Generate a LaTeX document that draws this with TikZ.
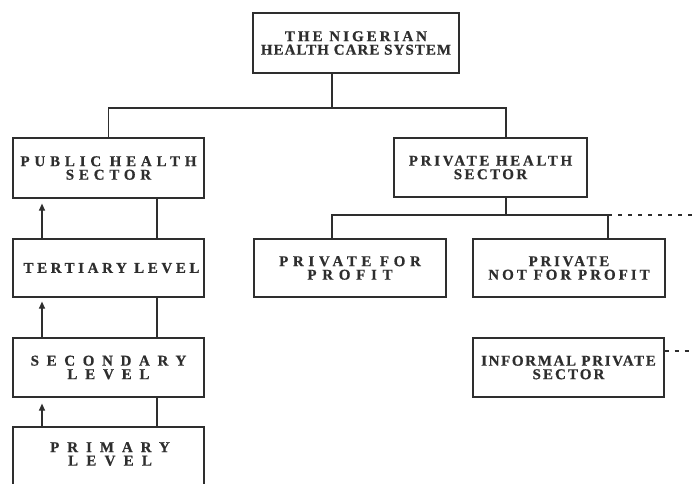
\documentclass[tikz,border=0pt]{standalone}
\usepackage{fontspec}
\setmainfont{Liberation Serif}[BoldFeatures={FakeBold=0.6}]
\usetikzlibrary{arrows.meta}
\newcommand\ls[1]{\addfontfeatures{LetterSpace=#1}}
\definecolor{ink}{HTML}{2E2E2E}
\begin{document}
\begin{tikzpicture}[x=1pt,y=-1pt,
  box/.style={draw=ink,line width=1.2pt,rectangle,inner sep=0pt,align=center,
    font=\fontsize{15}{13.5}\selectfont\bfseries,text=ink},
  txt/.style={inner sep=0pt,align=center,font=\fontsize{15}{13.5}\selectfont\bfseries,text=ink},
  conn/.style={draw=ink,line width=1.2pt},
  dconn/.style={draw=ink,line width=1.2pt,dash pattern=on 4pt off 6pt},
  up/.style={draw=ink,line width=1.2pt,-{Triangle[width=6pt,length=7pt]}}]
\useasboundingbox (0,0) rectangle (693,483);
\clip (0,0) rectangle (693,483);
\fill[white] (0,0) rectangle (693,483);
% boxes
\node[box,minimum width=206pt,minimum height=60pt] (top) at (356,43)
  {{\ls{20}THE NIGERIAN}\\{\ls{7}HEALTH CARE SYSTEM}};
\node[box,minimum width=191pt,minimum height=60pt] (pub) at (108.5,168)
  {{\ls{32}PUBLIC HEALTH}\\{\ls{32}SECTOR}};
\node[box,minimum width=191pt,minimum height=58pt] (ter) at (108.5,268)
  {\hspace*{6pt}{\ls{24}TERTIARY LEVEL}};
\node[box,minimum width=191pt,minimum height=59pt] (sec) at (108.5,367.5)
  {{\ls{51}SECONDARY}\\{\ls{52}LEVEL}};
\node[box,minimum width=191pt,minimum height=120pt] (pri) at (108.5,487) {};
\node[txt] (pritxt) at (110,454) {{\ls{53}PRIMARY}\\{\ls{55}LEVEL}};
\node[box,minimum width=193pt,minimum height=59pt] (priv) at (490.5,167.5)
  {{\ls{18}PRIVATE HEALTH}\\{\ls{16}SECTOR}};
\node[box,minimum width=192pt,minimum height=58pt] (pfp) at (350,268)
  {{\ls{31}PRIVATE FOR}\\{\ls{38}PROFIT}};
\node[box,minimum width=192pt,minimum height=58pt] (pnfp) at (569,268)
  {{\ls{18}PRIVATE}\\{\ls{20}NOT FOR PROFIT}};
\node[box,minimum width=191pt,minimum height=59pt] (inf) at (568.5,367.5)
  {{\ls{11}INFORMAL PRIVATE}\\{\ls{14}SECTOR}};
% junction coordinates
\coordinate (j1) at (332,108);
\coordinate (j2) at (506,108);
\coordinate (j3) at (506,215);
\coordinate (j4) at (332,215);
\coordinate (j5) at (608,215);
\coordinate (e1) at (693,215);
\coordinate (e2) at (693,351);
\coordinate (c1) at (157,0);
\coordinate (a1) at (42,0);
% connectors
\draw[conn] (top.south -| j1) -- (j1);
\draw[conn] (pub.north) |- (j2) -- (priv.north -| j2);
\draw[conn] (priv.south -| j3) -- (j3);
\draw[conn] (pfp.north -| j4) |- (j5) -- (pnfp.north -| j5);
\draw[dconn] (j5) -- (e1);
\draw[dconn] (inf.east |- e2) -- (e2);
\draw[conn] (pub.south -| c1) -- (ter.north -| c1);
\draw[conn] (ter.south -| c1) -- (sec.north -| c1);
\draw[conn] (sec.south -| c1) -- (pri.north -| c1);
\draw[up] (ter.north -| a1) -- ([yshift=-5pt]pub.south -| a1);
\draw[up] (sec.north -| a1) -- ([yshift=-4pt]ter.south -| a1);
\draw[up] (pri.north -| a1) -- ([yshift=-6pt]sec.south -| a1);
\end{tikzpicture}
\end{document}
